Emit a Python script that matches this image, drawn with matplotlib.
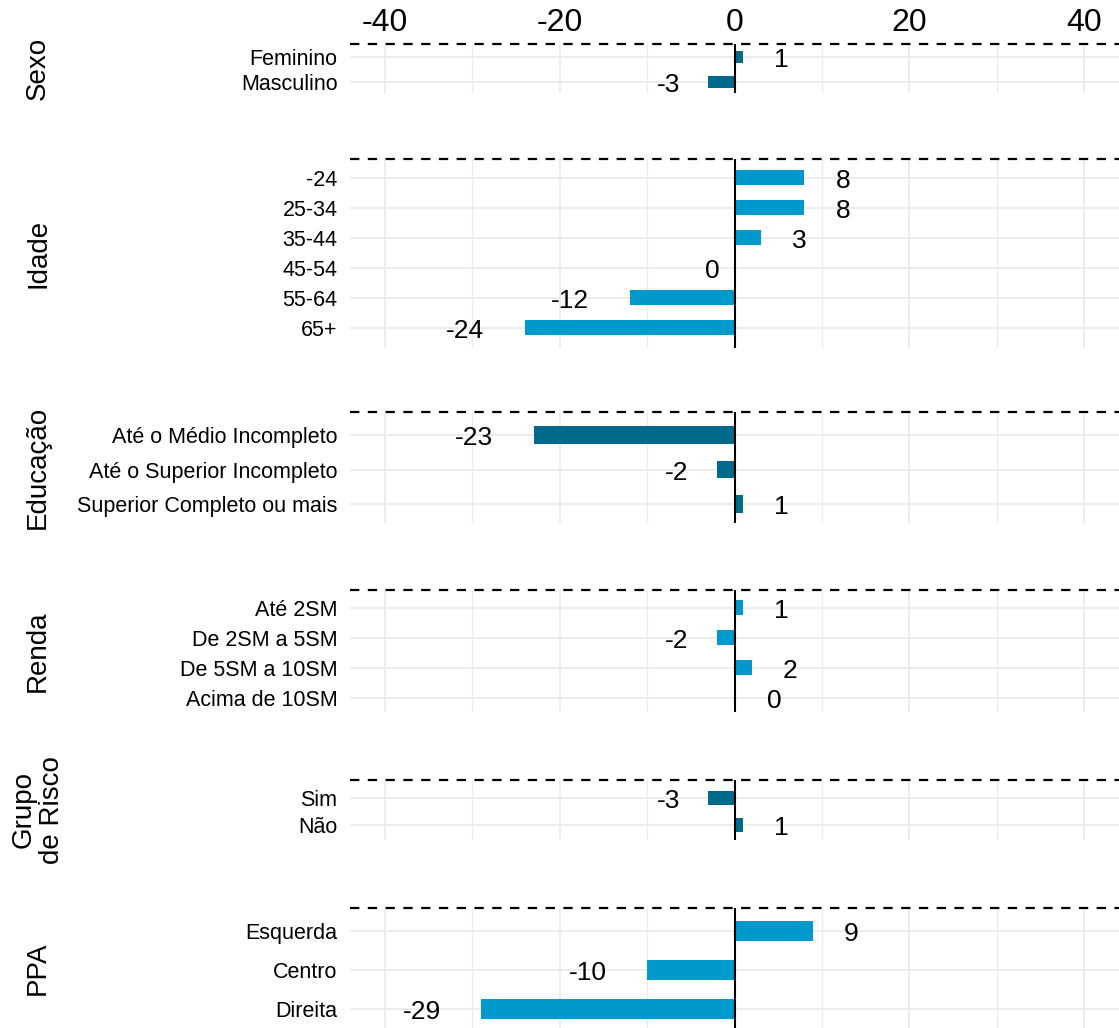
import numpy as np
import matplotlib
matplotlib.use("Agg")
import matplotlib.pyplot as plt
from matplotlib.transforms import offset_copy

plt.rcParams['font.family'] = ['Liberation Sans', 'DejaVu Sans']
plt.rcParams['axes.unicode_minus'] = False

# ===== DATA =====
sexo_cats = ['Feminino', 'Masculino']
sexo_vals = [1, -3]

idade_cats = ['-24', '25-34', '35-44', '45-54', '55-64', '65+']
idade_vals = [8, 8, 3, -0.1, -12, -24]

edu_cats = ['Até o Médio Incompleto', 'Até o Superior Incompleto', 'Superior Completo ou mais']
edu_vals = [-23, -2, 1]

renda_cats = ['Até 2SM', 'De 2SM a 5SM', 'De 5SM a 10SM', 'Acima de 10SM']
renda_vals = [1, -2, 2, 0.1]

risco_cats = ['Sim', 'Não']
risco_vals = [-3, 1]

ppa_cats = ['Esquerda', 'Centro', 'Direita']
ppa_vals = [9, -10, -29]

facet_titles = ['Sexo', 'Idade', 'Educação', 'Renda', 'Grupo\nde Risco', 'PPA']

# ===== STYLE / LAYOUT =====
LIGHT = '#0099CC'
DARK = '#006A8C'
GRID = '#EBEBEB'

panels = [
    (sexo_cats, sexo_vals, DARK),
    (idade_cats, idade_vals, LIGHT),
    (edu_cats, edu_vals, DARK),
    (renda_cats, renda_vals, LIGHT),
    (risco_cats, risco_vals, DARK),
    (ppa_cats, ppa_vals, LIGHT),
]

# pixel boxes (top, bottom) and padding above/below rows in row units
boxes = [(44, 93, 0.52, 0.44),
         (159, 348, 0.63, 0.67),
         (412, 523, 0.67, 0.55),
         (590, 712, 0.60, 0.47),
         (780, 840, 0.67, 0.56),
         (908, 1028, 0.59, 0.49)]

W, H = 1119, 1028
fig = plt.figure(figsize=(W / 100, H / 100), dpi=100)

left_px = 350

for i, ((cats, vals, col), (top, bot, pt, pb)) in enumerate(zip(panels, boxes)):
    ax = fig.add_axes([left_px / W, 1 - bot / H, (W - left_px) / W, (bot - top) / H])
    n = len(cats)
    y = np.arange(n)
    ax.barh(y, vals, height=0.5, color=col, zorder=2)
    ax.set_xlim(-44, 44)
    ax.set_ylim(n - 1 + pb, -pt)
    ax.set_yticks(y, cats)
    ax.set_xticks([-40, -20, 0, 20, 40])
    ax.set_xticks([-30, -10, 10, 30], minor=True)
    ax.set_axisbelow(True)
    ax.grid(axis='x', which='major', color=GRID, lw=1.3)
    ax.grid(axis='x', which='minor', color=GRID, lw=1.0)
    ax.grid(axis='y', which='major', color=GRID, lw=1.3)
    for s in ax.spines.values():
        s.set_visible(False)
    ax.tick_params(axis='y', length=0, pad=9, labelsize=15.5)
    ax.tick_params(axis='x', which='both', length=0)
    if i == 0:
        ax.xaxis.tick_top()
        ax.tick_params(axis='x', labelsize=23, pad=4.5)
    else:
        ax.tick_params(axis='x', labelbottom=False, labeltop=False)

    ax.axvline(0, color='black', lw=1.5, zorder=3)
    ax.axhline(-pt, color='black', lw=1.6, ls=(0, (4.2, 3.8)), clip_on=False, zorder=4)

    # value labels, nudged away from the bar end and a few pixels down
    tr = offset_copy(ax.transData, fig=fig, y=-3, units='dots')
    for yy, v in zip(y, vals):
        txt = str(int(round(v)))
        if v > 0:
            xt = v + 4.4
        else:
            xt = v - (0.2 + 2.2 * len(txt))
        ax.text(xt, yy, txt, ha='center', va='center', fontsize=19,
                transform=tr, zorder=5)

    fig.text(38 / W, 1 - (top + bot) / 2 / H, facet_titles[i], rotation=90,
             ha='center', va='center', fontsize=20, linespacing=1.1)

fig.savefig('out.png', dpi=100)
